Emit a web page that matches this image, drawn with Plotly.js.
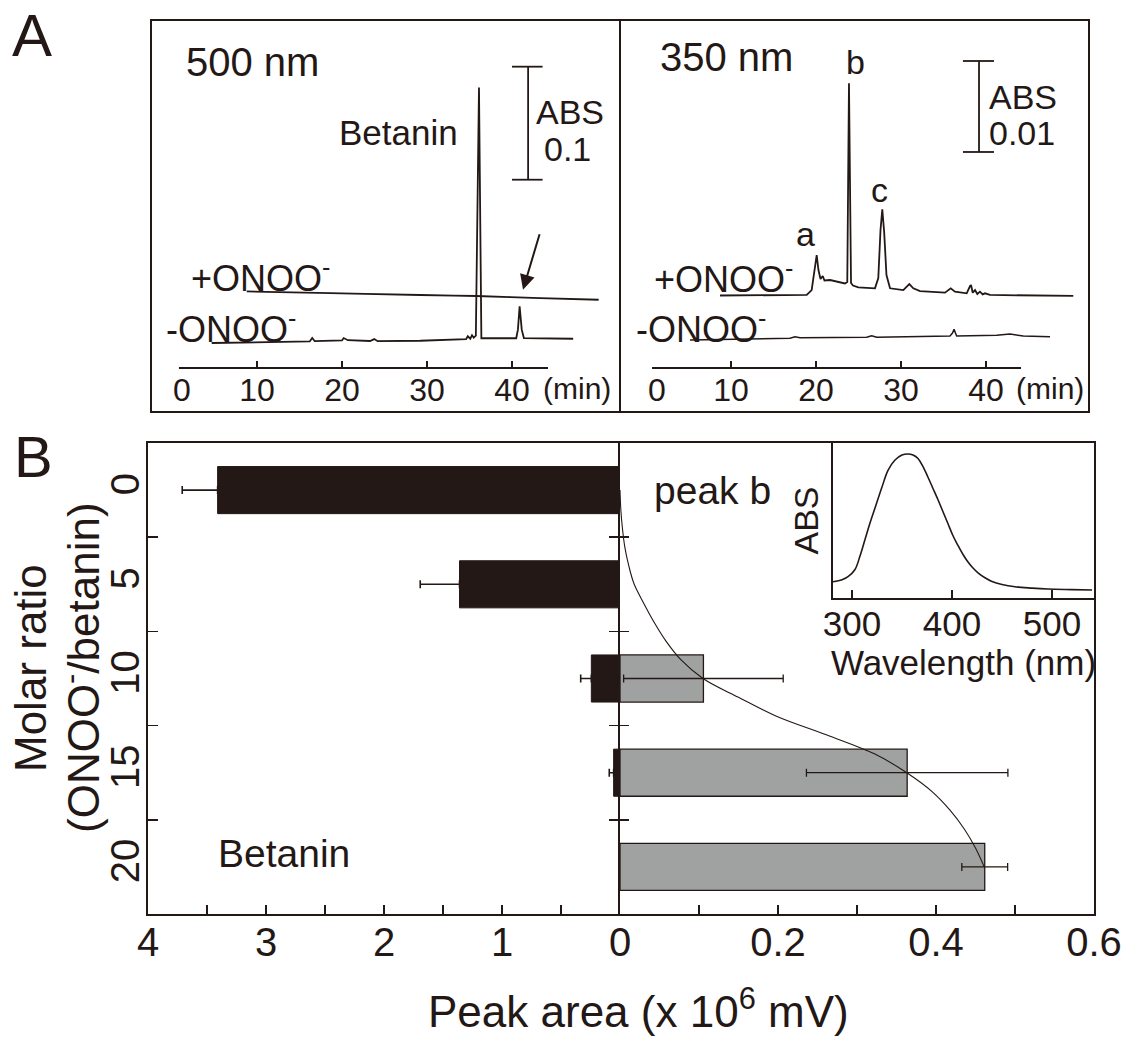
<!DOCTYPE html>
<html>
<head>
<meta charset="utf-8">
<script src="https://cdn.plot.ly/plotly-3.0.1.min.js"></script>
<style>html,body{margin:0;padding:0;background:#fff;}#chart{width:1135px;height:1038px;}</style>
</head>
<body>
<div id="chart"></div>
<script>
// ---------- Panel A data: chromatograms ----------
const time500Minus = [4.67,10.35,16.2,16.5,16.8,20.0,20.2,20.7,23.3,23.8,24.2,29.2,32.7,34.6,34.8,35.1,35.3,35.5,35.75,36.12,36.4,38.6,40.5,40.7,40.9,41.15,41.4,47.2];
const abs500Minus  = [0,0.0007,0.0014,0.0044,0.0016,0.0023,0.0044,0.0025,0.0018,0.0035,0.0016,0.002,0.0029,0.0034,0.006,0.0038,0.0069,0.0047,0.0065,0.226,0.0042,0.0042,0.0042,0.0118,0.0324,0.0118,0.0044,0.0038];
const time500Plus  = [8.79,18.6,29.2,35.8,43.3,50.2];
const abs500Plus   = [0.0457,0.0441,0.0425,0.0416,0.0398,0.0383];

const time350Plus = [8.71,13.41,18.12,18.91,19.49,19.76,20.08,20.29,20.53,20.79,21.0,21.65,23.41,23.68,23.88,24.12,24.35,24.98,26.94,27.33,27.59,27.8,28.02,28.29,28.71,30.27,30.98,31.45,32.24,35.18,35.85,36.35,37.73,38.12,38.24,38.44,38.71,38.98,39.29,39.61,39.88,40.47,45.18,50.27];
const abs350Plus  = [0.00489,0.00489,0.00491,0.00495,0.00549,0.00714,0.00934,0.00769,0.0067,0.00703,0.00654,0.00659,0.00621,0.00637,0.02821,0.00626,0.00599,0.00579,0.00568,0.00681,0.01209,0.01436,0.01187,0.00714,0.00568,0.00549,0.00615,0.00568,0.00538,0.0052,0.00568,0.00531,0.00513,0.00593,0.00604,0.0052,0.00549,0.00505,0.00531,0.00502,0.00513,0.00495,0.00489,0.00484];
const time350Minus = [5.18,11.06,15.76,16.94,17.53,18.12,25.96,26.55,27.14,35.76,36.06,36.24,36.41,36.55,41.26,42.82,44.39,47.53];
const abs350Minus  = [0,0.00011,0.00019,0.0002,0.00036,0.00025,0.0003,0.00047,0.0003,0.00044,0.00077,0.00118,0.00077,0.00044,0.00052,0.00066,0.00044,0.00036];
const timeTicks = [10,20,30,40];

// ---------- Panel B data ----------
const ratios = [0,5,10,15,20];
const betaninArea = [3.41,1.36,0.243,0.054,0];
const betaninErr  = [0.30,0.333,0.09,0.037,null];
const peakBArea   = [null,null,0.1056,0.3635,0.4617];
const peakBErr    = [null,null,0.101,0.1275,0.029];
const fitRatio = [0,1,2,3,4,5,6,7,8,9,10,11,12,13,14,15,16,17,18,19,20];
const fitArea  = [0,0.001,0.003,0.006,0.011,0.018,0.030,0.043,0.058,0.077,0.105,0.150,0.198,0.262,0.322,0.363,0.395,0.418,0.436,0.450,0.461];
const leftTicks = [4,3,2,1,0];
const leftMinorTicks = [3.5,2.5,1.5,0.5];
const rightTicks = [0.2,0.4,0.6];
const rightMinorTicks = [0.1,0.3,0.5];
const ratioTicks = [2.5,7.5,12.5,17.5];

// inset spectrum
const wavelength = [281,290,296,303,308,313,318,323,330,336,343,350,356,361,366,371,376,381,386,391,396,401,406,411,416,421,426,433,440,450,463,480,496,520,540];
const spectrumAbs = [0.108,0.122,0.142,0.19,0.28,0.39,0.5,0.6,0.74,0.85,0.92,0.953,0.96,0.953,0.93,0.875,0.805,0.73,0.655,0.575,0.495,0.415,0.35,0.29,0.24,0.2,0.168,0.135,0.11,0.09,0.075,0.066,0.06,0.056,0.053];
const waveTicks = [300,400,500];

// ---------- layout helpers ----------
const W = 1135, H = 1038;
const px = x => x / W;
const py = y => 1 - y / H;
const INK = '#231815';
const FONT = '"Liberation Sans", Arial, Helvetica, sans-serif';

const traces = [
  {x: time500Minus, y: abs500Minus, xaxis: 'x4', yaxis: 'y6', mode: 'lines', line: {color: INK, width: 1.8}},
  {x: time500Plus, y: abs500Plus, xaxis: 'x4', yaxis: 'y6', mode: 'lines', line: {color: INK, width: 1.8, shape: 'spline'}},
  {x: time350Plus, y: abs350Plus, xaxis: 'x5', yaxis: 'y7', mode: 'lines', line: {color: INK, width: 1.8}},
  {x: time350Minus, y: abs350Minus, xaxis: 'x5', yaxis: 'y7', mode: 'lines', line: {color: INK, width: 1.5}},
  {type: 'bar', orientation: 'h', x: betaninArea, y: ratios, width: 2.5, xaxis: 'x', yaxis: 'y',
   marker: {color: INK, line: {color: INK, width: 1}},
   error_x: {type: 'data', symmetric: false, array: betaninErr, arrayminus: [0,0,0,0,null], color: INK, thickness: 1.6, width: 4}},
  {type: 'bar', orientation: 'h', x: peakBArea, y: ratios, width: 2.5, xaxis: 'x2', yaxis: 'y',
   marker: {color: '#a0a2a1', line: {color: INK, width: 1.3}},
   error_x: {type: 'data', array: peakBErr, color: INK, thickness: 1.3, width: 4}},
  {x: fitArea, y: fitRatio, xaxis: 'x2', yaxis: 'y', mode: 'lines', line: {color: INK, width: 1.1, shape: 'spline'}},
  {x: wavelength, y: spectrumAbs, xaxis: 'x3', yaxis: 'y5', mode: 'lines', line: {color: INK, width: 1.6, shape: 'spline'}},
  // empty traces so the overlaying tick axes are drawn
  {x: [], y: [], xaxis: 'x', yaxis: 'y2', mode: 'lines'},
  {x: [], y: [], xaxis: 'x2', yaxis: 'y3', mode: 'lines'},
  {x: [], y: [], xaxis: 'x2', yaxis: 'y4', mode: 'lines'}
];

const axBase = {showgrid: false, zeroline: false, fixedrange: true, linecolor: INK, tickcolor: INK, color: INK, automargin: false};
const yRange = [22.5, -2.5];

const layout = {
  width: W, height: H,
  margin: {l: 0, r: 0, t: 0, b: 0},
  paper_bgcolor: '#fff', plot_bgcolor: 'rgba(0,0,0,0)',
  showlegend: false, hovermode: false, barmode: 'overlay',
  font: {family: FONT, color: INK},
  // Panel B
  xaxis: Object.assign({}, axBase, {domain: [px(148), px(620)], range: [4, 0], anchor: 'y',
    tickmode: 'array', tickvals: leftTicks, ticks: 'inside', ticklen: 9, tickwidth: 1.6, ticklabelstandoff: -8,
    minor: {tickmode: 'array', tickvals: leftMinorTicks, ticks: 'inside', ticklen: 9, tickwidth: 1.6, tickcolor: INK, showgrid: false},
    showline: true, mirror: true, linewidth: 2, tickfont: {size: 40, family: FONT, color: INK}}),
  xaxis2: Object.assign({}, axBase, {domain: [px(620), px(1094)], range: [0, 0.6], anchor: 'y',
    tickmode: 'array', tickvals: rightTicks, ticks: 'inside', ticklen: 9, tickwidth: 1.6, ticklabelstandoff: -8,
    minor: {tickmode: 'array', tickvals: rightMinorTicks, ticks: 'inside', ticklen: 9, tickwidth: 1.6, tickcolor: INK, showgrid: false},
    showline: true, mirror: true, linewidth: 2, tickfont: {size: 40, family: FONT, color: INK}}),
  yaxis: Object.assign({}, axBase, {domain: [py(914), py(443)], range: yRange, anchor: 'x',
    tickmode: 'array', tickvals: ratioTicks, ticks: 'inside', ticklen: 10, tickwidth: 1.6, showticklabels: false,
    showline: true, linewidth: 2}),
  yaxis2: Object.assign({}, axBase, {overlaying: 'y', anchor: 'x', side: 'left', range: yRange,
    tickmode: 'array', tickvals: ratios, ticks: '', tickangle: -90, showline: false,
    tickfont: {size: 40, family: FONT, color: INK}}),
  yaxis3: Object.assign({}, axBase, {overlaying: 'y', anchor: 'x2', side: 'left', range: yRange,
    tickmode: 'array', tickvals: ratioTicks, ticks: 'outside', ticklen: 9, tickwidth: 1.6, showticklabels: false,
    showline: true, mirror: true, linewidth: 2}),
  yaxis4: Object.assign({}, axBase, {overlaying: 'y', anchor: 'x2', side: 'left', range: yRange,
    tickmode: 'array', tickvals: ratioTicks, ticks: 'inside', ticklen: 9, tickwidth: 1.6, showticklabels: false,
    showline: false}),
  // inset
  xaxis3: Object.assign({}, axBase, {domain: [px(833), px(1094)], range: [281, 542], anchor: 'y5',
    tickmode: 'array', tickvals: waveTicks, ticks: 'inside', ticklen: 8, tickwidth: 1.6, ticklabelstandoff: -6,
    showline: true, linewidth: 2, tickfont: {size: 35, family: FONT, color: INK},
    title: {text: 'Wavelength (nm)', font: {size: 35, family: FONT, color: INK}, standoff: 0}}),
  yaxis5: Object.assign({}, axBase, {domain: [py(598), py(443)], range: [0, 1.033], anchor: 'x3',
    showticklabels: false, ticks: '', showline: true, linewidth: 2,
    title: {text: 'ABS', font: {size: 34, family: FONT, color: INK}, standoff: 2}}),
  // Panel A
  xaxis4: Object.assign({}, axBase, {domain: [px(151), px(620)], range: [-2.47, 52.71], anchor: 'y6',
    tickmode: 'array', tickvals: timeTicks, ticks: 'inside', ticklen: 7, tickwidth: 1.6, showline: false,
    tickfont: {size: 32, family: FONT, color: INK}}),
  yaxis6: {domain: [py(368), py(20)], range: [-0.0221, 0.2858], anchor: 'x4', visible: false, fixedrange: true},
  xaxis5: Object.assign({}, axBase, {domain: [px(620), px(1089)], range: [-3.06, 52.12], anchor: 'y7',
    tickmode: 'array', tickvals: timeTicks, ticks: 'inside', ticklen: 7, tickwidth: 1.6, showline: false,
    tickfont: {size: 32, family: FONT, color: INK}}),
  yaxis7: {domain: [py(368), py(20)], range: [-0.003077, 0.035165], anchor: 'x5', visible: false, fixedrange: true},
  shapes: [
    // panel A frames
    {type: 'rect', xref: 'paper', yref: 'paper', x0: px(151), x1: px(620), y0: py(412), y1: py(20), line: {color: INK, width: 2}},
    {type: 'rect', xref: 'paper', yref: 'paper', x0: px(620), x1: px(1089), y0: py(412), y1: py(20), line: {color: INK, width: 2}},
    // time axis lines
    {type: 'line', xref: 'x4', yref: 'paper', x0: 0.82, x1: 44.24, y0: py(368), y1: py(368), line: {color: INK, width: 2}},
    {type: 'line', xref: 'x5', yref: 'paper', x0: 0.71, x1: 44.12, y0: py(368), y1: py(368), line: {color: INK, width: 2}},
    // scale bar 500 nm (ABS 0.1)
    {type: 'line', xref: 'x4', yref: 'y6', x0: 41.9, x1: 41.9, y0: 0.1445, y1: 0.2445, line: {color: INK, width: 1.8}},
    {type: 'line', xref: 'x4', yref: 'y6', x0: 40.0, x1: 43.6, y0: 0.1445, y1: 0.1445, line: {color: INK, width: 1.8}},
    {type: 'line', xref: 'x4', yref: 'y6', x0: 40.0, x1: 43.6, y0: 0.2445, y1: 0.2445, line: {color: INK, width: 1.8}},
    // scale bar 350 nm (ABS 0.01)
    {type: 'line', xref: 'x5', yref: 'y7', x0: 39.18, x1: 39.18, y0: 0.02066, y1: 0.03066, line: {color: INK, width: 1.8}},
    {type: 'line', xref: 'x5', yref: 'y7', x0: 37.29, x1: 40.94, y0: 0.02066, y1: 0.02066, line: {color: INK, width: 1.8}},
    {type: 'line', xref: 'x5', yref: 'y7', x0: 37.29, x1: 40.94, y0: 0.03066, y1: 0.03066, line: {color: INK, width: 1.8}}
  ],
  annotations: []
};

function txt(text, x, y, size, xanchor, extra) {
  return Object.assign({text: text, x: px(x), y: py(y), xref: 'paper', yref: 'paper', showarrow: false,
    xanchor: xanchor || 'center', yanchor: 'middle', font: {size: size, family: FONT, color: INK}}, extra || {});
}
const A = layout.annotations;
A.push(txt('A', 32, 36, 60));
A.push(txt('B', 33, 456, 58));
// 500 nm panel
A.push(txt('500 nm', 184, 62, 40, 'left'));
A.push(txt('Betanin', 398, 132, 35));
A.push(txt('+ONOO<sup>-</sup>', 189, 276, 36, 'left'));
A.push(txt('-ONOO<sup>-</sup>', 164, 327, 36, 'left'));
A.push(txt('ABS', 570, 112, 34));
A.push(txt('0.1', 567, 149, 34));
A.push({text: '0', x: 1.18, y: py(390), xref: 'x4', yref: 'paper', showarrow: false, xanchor: 'center', yanchor: 'middle', font: {size: 32, family: FONT, color: INK}});
A.push(txt('(min)', 577, 389, 30));
A.push({text: '', x: 41.3, y: 0.0472, xref: 'x4', yref: 'y6', ax: 43.3, ay: 0.0976, axref: 'x4', ayref: 'y6',
  showarrow: true, arrowhead: 2, arrowsize: 1.5, arrowwidth: 2, arrowcolor: INK});
// 350 nm panel
A.push(txt('350 nm', 658, 57, 40, 'left'));
A.push(txt('a', 805, 234, 34));
A.push(txt('b', 855, 62, 34));
A.push(txt('c', 879, 190, 34));
A.push(txt('+ONOO<sup>-</sup>', 652, 277, 36, 'left'));
A.push(txt('-ONOO<sup>-</sup>', 634, 327, 36, 'left'));
A.push(txt('ABS', 1023, 97, 34));
A.push(txt('0.01', 1022, 133, 34));
A.push({text: '0', x: 1.29, y: py(390), xref: 'x5', yref: 'paper', showarrow: false, xanchor: 'center', yanchor: 'middle', font: {size: 32, family: FONT, color: INK}});
A.push(txt('(min)', 1050, 389, 30));
// panel B
A.push(txt('peak b', 652, 490, 39, 'left'));
A.push(txt('Betanin', 216, 853, 39, 'left'));
A.push(txt('Molar ratio', 30, 668, 44, 'center', {textangle: -90}));
A.push(txt('(ONOO<sup>-</sup>/betanin)', 80, 668, 44, 'center', {textangle: -90}));
A.push(txt('Peak area (x 10<sup>6</sup> mV)', 638, 1008, 44));

Plotly.newPlot('chart', traces, layout, {displayModeBar: false, staticPlot: true});
</script>
</body>
</html>
